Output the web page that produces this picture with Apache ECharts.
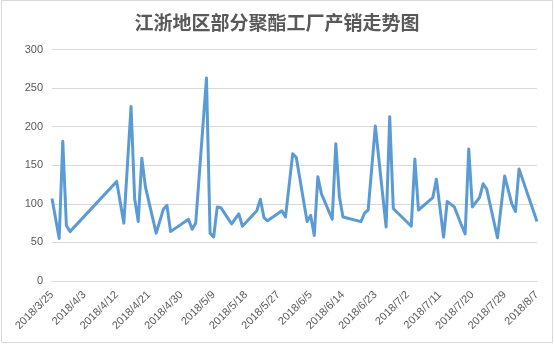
<!DOCTYPE html>
<html>
<head>
<meta charset="utf-8">
<script src="https://cdn.jsdelivr.net/npm/echarts@6/dist/echarts.min.js"></script>
<style>
html,body{margin:0;padding:0;background:#fff;}
#main{width:554px;height:347px;}
</style>
</head>
<body>
<div id="main"></div>
<script>
const titleText = '江浙地区部分聚酯工厂产销走势图';
const startDate = '2018/3/25';
const endDate = '2018/8/7';
const tickStepDays = 9;
const yTicks = [0, 50, 100, 150, 200, 250, 300];

const dates = [
  '2018/3/25','2018/3/27','2018/3/28','2018/3/29','2018/3/30',
  '2018/4/12','2018/4/14','2018/4/16','2018/4/17','2018/4/18','2018/4/19','2018/4/20',
  '2018/4/23','2018/4/25','2018/4/26','2018/4/27',
  '2018/5/2','2018/5/3','2018/5/4','2018/5/7','2018/5/8','2018/5/9','2018/5/10','2018/5/11',
  '2018/5/14','2018/5/16','2018/5/17','2018/5/21','2018/5/22','2018/5/23','2018/5/24',
  '2018/5/28','2018/5/29','2018/5/31','2018/6/1','2018/6/4','2018/6/5','2018/6/6','2018/6/7','2018/6/8',
  '2018/6/11','2018/6/12','2018/6/13','2018/6/14','2018/6/19','2018/6/20','2018/6/21','2018/6/23',
  '2018/6/26','2018/6/27','2018/6/28','2018/7/3','2018/7/4','2018/7/5','2018/7/9','2018/7/10',
  '2018/7/12','2018/7/13','2018/7/15','2018/7/17','2018/7/18','2018/7/19','2018/7/20',
  '2018/7/22','2018/7/23','2018/7/24','2018/7/27','2018/7/29','2018/7/31','2018/8/1','2018/8/2','2018/8/7'
];
const values = [
  107, 55, 181, 72, 64,
  129, 75, 226, 107, 77, 159, 122,
  62, 93, 98, 64,
  80, 67, 75, 263, 62, 57, 96, 95,
  74, 87, 71, 91, 106, 82, 78,
  91, 83, 165, 160, 77, 85, 59, 135, 113,
  80, 178, 109, 83, 77, 88, 92, 201,
  70, 213, 94, 71, 158, 92, 108, 132,
  57, 103, 96, 72, 61, 171, 96,
  108, 126, 119, 56, 136, 100, 90, 145, 77
];

function parseDate(s){ const p = s.split('/').map(Number); return Date.UTC(p[0], p[1]-1, p[2]); }
const DAY = 86400000;
const t0 = parseDate(startDate);
const span = Math.round((parseDate(endDate) - t0) / DAY);
const seriesData = dates.map((d, i) => [Math.round((parseDate(d) - t0) / DAY), values[i]]);
function fmt(v){ const d = new Date(t0 + v * DAY); return d.getUTCFullYear() + '/' + (d.getUTCMonth()+1) + '/' + d.getUTCDate(); }

const chart = echarts.init(document.getElementById('main'));
chart.setOption({
  animation: false,
  backgroundColor: '#fff',
  title: {
    text: titleText, left: 'center', top: 8,
    textStyle: { fontFamily: 'Noto Sans CJK SC', fontSize: 19, fontWeight: 'bold', color: '#595959' }
  },
  graphic: [{
    type: 'rect', shape: { x: 1.5, y: 0.5, width: 551, height: 342 },
    style: { fill: 'none', stroke: '#d9d9d9', lineWidth: 1 }, silent: true
  }],
  grid: { left: 52, right: 17, top: 49.5, bottom: 66, containLabel: false },
  xAxis: {
    type: 'value', min: 0, max: span, interval: tickStepDays,
    axisLine: { show: true, lineStyle: { color: '#d9d9d9' } },
    axisTick: { show: false },
    splitLine: { show: false },
    axisLabel: {
      rotate: 45, formatter: fmt, color: '#595959', fontSize: 11, margin: 12,
      fontFamily: 'Liberation Sans', showMinLabel: true, showMaxLabel: true
    }
  },
  yAxis: {
    type: 'value', min: yTicks[0], max: yTicks[yTicks.length-1], interval: yTicks[1]-yTicks[0],
    axisLine: { show: false }, axisTick: { show: false },
    splitLine: { lineStyle: { color: '#d9d9d9', width: 1 } },
    axisLabel: { color: '#595959', fontSize: 11, margin: 9, fontFamily: 'Liberation Sans' }
  },
  series: [{
    type: 'line', data: seriesData, showSymbol: false, symbol: 'none',
    lineStyle: { color: '#5b9bd5', width: 3, join: 'round' }
  }]
});
</script>
</body>
</html>
